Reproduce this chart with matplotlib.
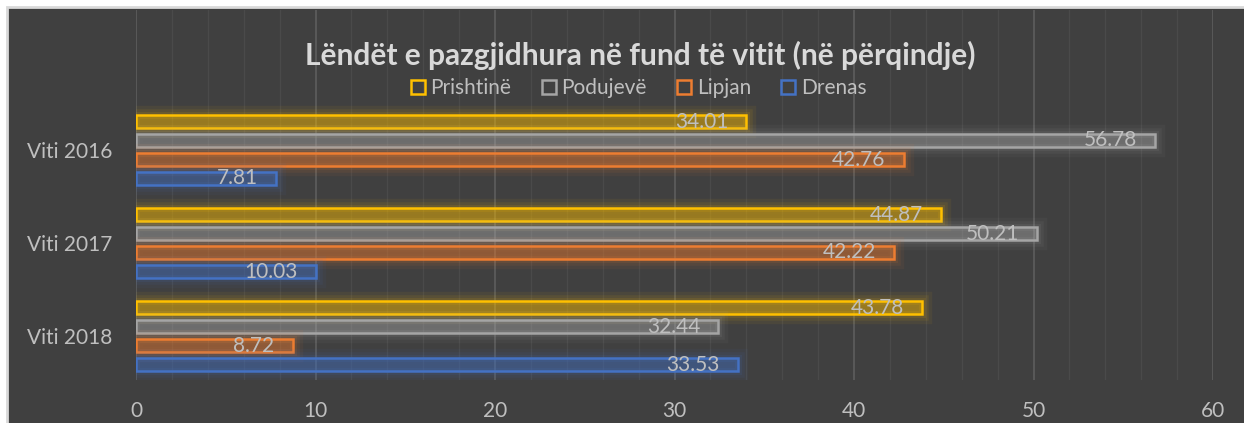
import matplotlib
matplotlib.use("Agg")
import matplotlib.pyplot as plt
import matplotlib.patheffects as pe
from matplotlib.patches import Rectangle
from matplotlib.lines import Line2D
import numpy as np

plt.rcParams['font.family'] = ['Lato', 'DejaVu Sans']

# data
years = ['Viti 2016', 'Viti 2017', 'Viti 2018']
cities = ['Prishtinë', 'Podujevë', 'Lipjan', 'Drenas']
prishtine = [34.01, 44.87, 43.78]
podujeve = [56.78, 50.21, 32.44]
lipjan = [42.76, 42.22, 8.72]
drenas = [7.81, 10.03, 33.53]
colors = ['#FFC000', '#A5A5A5', '#ED7D31', '#4472C4']

series = [prishtine, podujeve, lipjan, drenas]
bg = '#404040'
txt = '#bfbfbf'

fig = plt.figure(figsize=(12.44, 4.23), dpi=100, facecolor='white')
# chart area frame
fig.patches.append(Rectangle((7 / 1244, -0.01), 1.0, 1 - 7 / 423 + 0.01,
                             transform=fig.transFigure, facecolor=bg,
                             edgecolor='#d9d9d9', linewidth=2, zorder=-5))

ax = fig.add_axes([136 / 1244, 1 - 380 / 423, (1213 - 136) / 1244, 370 / 423])
ax.set_facecolor('none')

pitch = 19 / 93
height = 13 / 93
ypos = np.arange(len(years))
for i, (vals, col) in enumerate(zip(series, colors)):
    y = ypos + (i - 1.5) * pitch
    bars = ax.barh(y, vals, height=height, color=col,
                   edgecolor=col, linewidth=1.8, zorder=3)
    for b, v in zip(bars, vals):
        b.set_facecolor(matplotlib.colors.to_rgba(col, 0.22))
        b.set_path_effects([pe.Stroke(linewidth=14, foreground=col, alpha=0.06),
                            pe.Stroke(linewidth=9, foreground=col, alpha=0.08),
                            pe.Stroke(linewidth=5, foreground=col, alpha=0.10),
                            pe.Normal()])
        ax.text(v - 1.0, b.get_y() + b.get_height() / 2, f'{v:.2f}',
                ha='right', va='center', color=txt, fontsize=15, zorder=5)

ax.set_xlim(0, 60)
ax.set_ylim(2 + 44 / 93, -140 / 93)
ax.set_xticks(np.arange(0, 61, 10))
ax.set_xticks(np.arange(0, 61, 2), minor=True)
ax.grid(True, which='major', axis='x', color='#5e5e5e', linewidth=1.2, zorder=1)
ax.grid(True, which='minor', axis='x', color='#4a4a4a', linewidth=1.0, zorder=1)
ax.set_yticks(ypos)
ax.set_yticklabels(years)
ax.tick_params(axis='both', which='both', length=0, colors=txt, labelsize=15)
ax.tick_params(axis='x', pad=15)
ax.tick_params(axis='y', pad=17)
for s in ax.spines.values():
    s.set_visible(False)

fig.text(0.5145, 1 - 55 / 423, 'Lëndët e pazgjidhura në fund të vitit (në përqindje)',
         ha='center', va='center', color='#d9d9d9', fontsize=21.5, fontweight='bold')

handles = [Line2D([], [], marker='s', linestyle='none', markersize=10,
                  markerfacecolor='none', markeredgecolor=c, markeredgewidth=1.8)
           for c in colors]
fig.legend(handles, cities, loc='center', bbox_to_anchor=(637 / 1244, 1 - 88 / 423),
           ncol=4, frameon=False, fontsize=15, labelcolor=txt,
           handletextpad=0.1, columnspacing=1.3, handlelength=1.0)

fig.savefig('out.png', dpi=100, facecolor='white')
